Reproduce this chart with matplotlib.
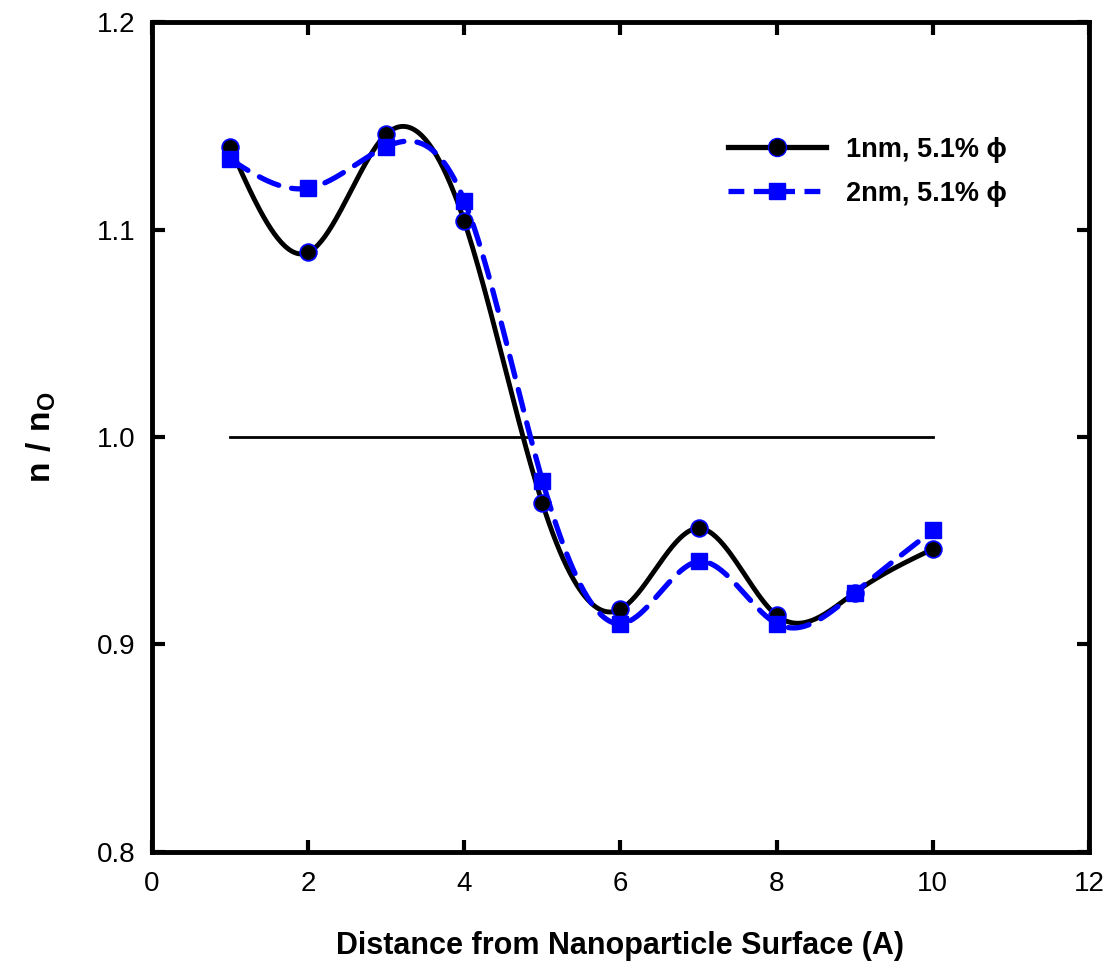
import numpy as np
import matplotlib
matplotlib.use('Agg')
import matplotlib.pyplot as plt

plt.rcParams['font.family'] = ['Liberation Sans', 'DejaVu Sans']
plt.rcParams['mathtext.fontset'] = 'custom'
plt.rcParams['mathtext.bf'] = 'Liberation Sans:bold'
plt.rcParams['mathtext.rm'] = 'Liberation Sans'

# data
x = [1, 2, 3, 4, 5, 6, 7, 8, 9, 10]
n_1nm = [1.140, 1.089, 1.146, 1.104, 0.968, 0.917, 0.956, 0.914, 0.925, 0.946]
n_2nm = [1.134, 1.120, 1.140, 1.114, 0.979, 0.910, 0.940, 0.910, 0.925, 0.955]
ref_x = [1, 10]
ref_y = [1.0, 1.0]
xticks = [0, 2, 4, 6, 8, 10, 12]
yticks = [0.8, 0.9, 1.0, 1.1, 1.2]


def spline(xs, ys, num=400):
    # natural cubic spline through the points
    xs = np.asarray(xs, float)
    ys = np.asarray(ys, float)
    n = len(xs)
    h = np.diff(xs)
    A = np.zeros((n, n))
    b = np.zeros(n)
    A[0, 0] = 1
    A[-1, -1] = 1
    for i in range(1, n - 1):
        A[i, i - 1] = h[i - 1]
        A[i, i] = 2 * (h[i - 1] + h[i])
        A[i, i + 1] = h[i]
        b[i] = 3 * ((ys[i + 1] - ys[i]) / h[i] - (ys[i] - ys[i - 1]) / h[i - 1])
    c = np.linalg.solve(A, b)
    xf = np.linspace(xs[0], xs[-1], num)
    yf = np.zeros_like(xf)
    for k, xv in enumerate(xf):
        i = min(np.searchsorted(xs, xv, side='right') - 1, n - 2)
        dx = xv - xs[i]
        bi = (ys[i + 1] - ys[i]) / h[i] - h[i] * (2 * c[i] + c[i + 1]) / 3
        di = (c[i + 1] - c[i]) / (3 * h[i])
        yf[k] = ys[i] + bi * dx + c[i] * dx ** 2 + di * dx ** 3
    return xf, yf


fig = plt.figure(figsize=(11.09, 9.68), dpi=100)
ax = fig.add_axes([0.137, 0.120, 0.845, 0.857])

ax.plot(ref_x, ref_y, color='black', lw=2)

xs1, ys1 = spline(x, n_1nm)
xs2, ys2 = spline(x, n_2nm)
ax.plot(xs1, ys1, color='black', lw=3.5, solid_capstyle='round')
ax.plot(xs2, ys2, color='blue', lw=3.8, ls=(0, (4, 2.5)), dash_capstyle='round')
ax.plot(x, n_1nm, 'o', color='black', mec='blue', mew=1.3, ms=12)
ax.plot(x, n_2nm, 's', color='blue', mec='blue', ms=11)

# legend proxies
h1, = ax.plot([], [], color='black', lw=3.8, marker='o', mfc='black', mec='blue', ms=13)
h2, = ax.plot([], [], color='blue', lw=3.8, ls=(0, (3, 1.8)), marker='s', mfc='blue', mec='blue', ms=12)
ax.legend([h1, h2], ['1nm, 5.1% \u03d5', '2nm, 5.1% \u03d5'], loc='upper left',
          bbox_to_anchor=(0.615, 0.862), frameon=False, handlelength=3.6,
          handletextpad=0.75, borderpad=0, borderaxespad=0,
          prop={'weight': 'bold', 'size': 19.5}, labelspacing=0.67)

ax.set_xlim(0, 12)
ax.set_ylim(0.8, 1.2)
ax.set_xticks(xticks)
ax.set_yticks(yticks)
ax.set_yticklabels(['%.1f' % v for v in yticks])
ax.tick_params(direction='in', top=True, right=True, length=9, width=3, labelsize=20)
ax.tick_params(axis='x', pad=14)
ax.tick_params(axis='y', pad=12)
for s in ax.spines.values():
    s.set_linewidth(3.5)

ax.set_xlabel('Distance from Nanoparticle Surface (A)', fontsize=22, fontweight='bold', labelpad=24)
ax.set_ylabel(r'$\mathbf{n\ /\ n_O}$', fontsize=24, labelpad=28)

fig.savefig('out.png', dpi=100)
